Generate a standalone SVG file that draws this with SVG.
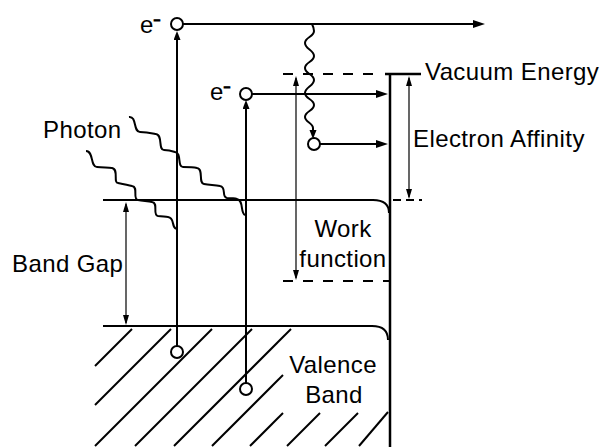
<svg xmlns="http://www.w3.org/2000/svg" width="605" height="447" viewBox="0 0 605 447">
<style>
.ln{stroke:#000;stroke-width:2;fill:none}
.bar{stroke:#000;stroke-width:2.5;fill:none}
.thin{stroke:#000;stroke-width:1.2;fill:none}
.dash{stroke-dasharray:10 10}
.dot{fill:#fff;stroke:#000;stroke-width:2}
text{font-family:"Liberation Sans",Arial,sans-serif;font-size:24px;letter-spacing:0.4px;fill:#000}
.sup{font-size:11px;font-weight:bold;stroke:#000;stroke-width:1.2;letter-spacing:0}
</style>
<defs>
<marker id="ah" markerUnits="userSpaceOnUse" markerWidth="13" markerHeight="9" refX="9" refY="4" orient="auto"><path d="M0,0 L12,4 L0,8 z" fill="#000"/></marker>
<marker id="am" markerUnits="userSpaceOnUse" markerWidth="10" markerHeight="8" refX="6" refY="3.5" orient="auto"><path d="M0,0 L9,3.5 L0,7 z" fill="#000"/></marker>
<marker id="as" markerUnits="userSpaceOnUse" markerWidth="11" markerHeight="7" refX="8" refY="3" orient="auto-start-reverse"><path d="M0,0 L10,3 L0,6 z" fill="#000"/></marker>
</defs>
<rect width="605" height="447" fill="#fff"/>

<g id="hatching" class="ln">
<path d="M132,329 L95,366"/>
<path d="M171,329 L95,405"/>
<path d="M212,329 L95,446"/>
<path d="M252,329 L135,446"/>
<path d="M291,329 L174,446"/>
<path d="M283,375 L212,446"/>
<path d="M283,413 L250,446"/>
<path d="M320,413 L287,446"/>
<path d="M358,413 L325,446"/>
<path d="M388,412 L359,446"/>
</g>

<g id="conduction-band"><path class="ln" d="M103,200 L373,200 C383,200 389,204 389,213"/></g>
<g id="valence-band"><path class="ln" d="M103,326 L372,326 C383,326 388,331 388,340"/></g>
<g id="surface-barrier"><path class="bar" d="M385,74 L421,74 M390,74 L390,447"/></g>
<g id="vacuum-level"><path class="ln dash" d="M283,74 L380,74"/></g>
<g id="fermi-level"><path class="ln dash" d="M283,281 L390,281"/></g>
<g id="affinity-level"><path class="ln" stroke-dasharray="8 5" d="M393,200 L422,200"/></g>

<g id="photons" class="ln">
<path d="M129,117 C137,116 133,132 140,132 C147,132 151,133 156,134 C163,135 158,150 164,150 C169,150 172,151 175,152 C182,153 177,167 183,167 C189,167 193,167 197,168 C204,169 198,183 204,184 C210,185 215,185 220,186 C227,187 221,197 227,198 C231,198 234,198 237,199 C244,200 240,213 245,215"/>
<path d="M86,151 C94,151 90,167 97,167 C103,167 107,168 112,168 C119,169 113,183 118,183 C123,184 128,185 132,186 C139,187 132,199 138,200 C143,201 148,201 152,202 C159,203 152,215 158,216 C162,216 165,217 168,217 C175,218 171,226 176,229"/>
</g>

<g id="connectors">
<path class="ln" d="M177,346 L177,34" marker-end="url(#am)"/>
<path class="ln" d="M246,383 L246,103" marker-end="url(#am)"/>
<path class="ln" d="M183,24 L482,24" marker-end="url(#ah)"/>
<path class="ln" d="M252,94 L385,94" marker-end="url(#ah)"/>
<path class="ln" d="M320,144 L385,144" marker-end="url(#ah)"/>
<path class="ln" d="M312,24 C313,26 314,28 314,31 C314,37 305,37 305,43 C305,49 314,50 314,56 C314,62 305,62 305,68 C305,74 314,74 314,80 C314,86 305,87 305,93 C305,99 314,99 314,105 C314,111 305,111 305,117 C305,122 313,123 313,128 L313,136" marker-end="url(#am)"/>
<path class="thin" d="M126,204 L126,323" marker-start="url(#as)" marker-end="url(#as)"/>
<path class="thin" d="M296,78 L296,278" marker-start="url(#as)" marker-end="url(#as)"/>
<path class="thin" d="M409,78 L409,197" marker-start="url(#as)" marker-end="url(#as)"/>
</g>

<g id="electron-1"><circle class="dot" cx="177" cy="24" r="6"/></g>
<g id="hole-1"><circle class="dot" cx="177" cy="352" r="6"/></g>
<g id="electron-2"><circle class="dot" cx="246" cy="94" r="6"/></g>
<g id="hole-2"><circle class="dot" cx="246" cy="389" r="6"/></g>
<g id="electron-3"><circle class="dot" cx="314" cy="144" r="6"/></g>

<g id="labels">
<text x="140" y="33">e<tspan class="sup" dy="-9">−</tspan></text>
<text x="210" y="100">e<tspan class="sup" dy="-9">−</tspan></text>
<text x="425" y="80">Vacuum Energy</text>
<text x="413" y="147">Electron Affinity</text>
<text x="43" y="138">Photon</text>
<text x="12" y="272">Band Gap</text>
<text x="343" y="237" text-anchor="middle">Work</text>
<text x="343" y="267" text-anchor="middle">function</text>
<text x="333" y="373" text-anchor="middle">Valence</text>
<text x="334" y="403" text-anchor="middle">Band</text>
</g>
</svg>
